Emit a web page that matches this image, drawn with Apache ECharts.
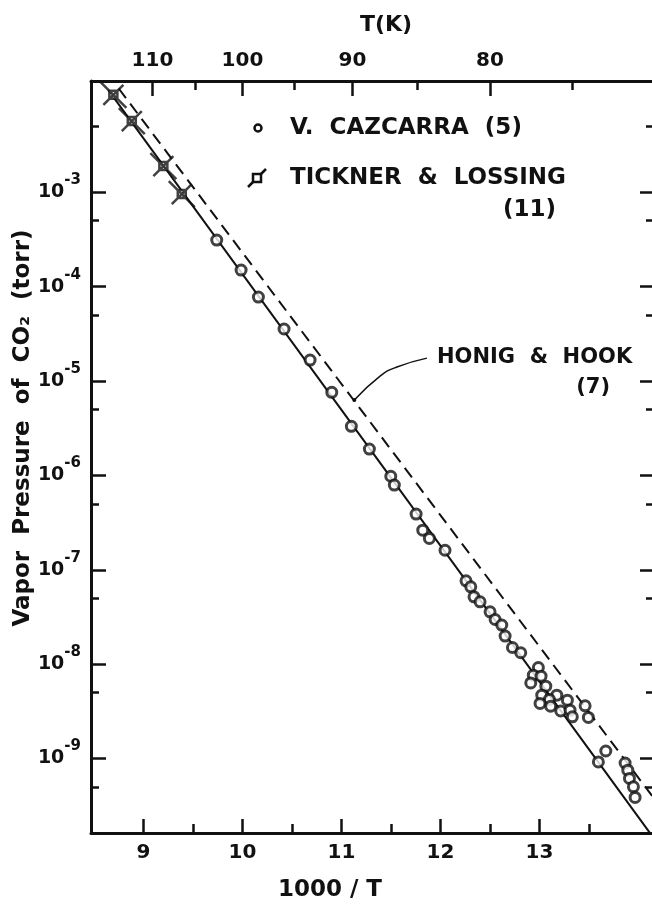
<!DOCTYPE html>
<html>
<head>
<meta charset="utf-8">
<script src="https://cdn.jsdelivr.net/npm/echarts@6/dist/echarts.min.js"></script>
<style>
html, body { margin: 0; padding: 0; background: #fff; }
#chart { width: 652px; height: 908px; }
</style>
</head>
<body>
<div id="chart"></div>
<script>
// x = 1000/T, y = vapor pressure of CO2 in torr
var cazcarraX = [9.740, 9.986, 10.161, 10.420, 10.683, 10.902, 11.10, 11.282, 11.498, 11.534,
    11.754, 11.821, 11.888, 12.046, 12.258, 12.306, 12.339, 12.400, 12.501, 12.552,
    12.619, 12.653, 12.727, 12.811, 12.989, 12.938, 13.016, 12.912, 13.064, 13.023,
    13.175, 13.100, 13.006, 13.282, 13.461, 13.113, 13.215, 13.309, 13.332, 13.494,
    13.670, 13.595, 13.865, 13.892, 13.909, 13.949, 13.966];
var cazcarraP = [3.12e-4, 1.50e-4, 7.76e-5, 3.56e-5, 1.67e-5, 7.59e-6, 3.31e-6, 1.90e-6, 9.8e-7, 7.89e-7,
    3.89e-7, 2.63e-7, 2.15e-7, 1.61e-7, 7.64e-8, 6.59e-8, 5.16e-8, 4.57e-8, 3.58e-8, 2.97e-8,
    2.59e-8, 1.98e-8, 1.50e-8, 1.32e-8, 9.2e-9, 7.64e-9, 7.45e-9, 6.32e-9, 5.83e-9, 4.69e-9,
    4.69e-9, 4.22e-9, 3.83e-9, 4.15e-9, 3.61e-9, 3.58e-9, 3.19e-9, 3.25e-9, 2.76e-9, 2.72e-9,
    1.20e-9, 9.18e-10, 8.95e-10, 7.52e-10, 6.14e-10, 5.0e-10, 3.86e-10];

var ticknerX = [8.696, 8.882, 9.201, 9.387];
var ticknerP = [1.08e-2, 5.7e-3, 1.9e-3, 9.6e-4];

// fitted line (solid) and Honig & Hook (dashed)
var fitX = [8.645, 14.117];
var fitP = [1.21e-2, 1.62e-10];
var honigX = [8.75, 14.14];
var honigP = [1.26e-2, 3.98e-10];

// leader from the dashed line to the "HONIG & HOOK" note
var leaderX = [11.13, 11.39, 11.56, 11.863];
var leaderP = [6.3e-6, 1.13e-5, 1.41e-5, 1.75e-5];

var xTicks = [9, 10, 11, 12, 13];
var xMinorTicks = [9.5, 10.5, 11.5, 12.5, 13.5];
var tempTicks = [110, 100, 90, 80];
var tempMinorTicks = [105, 95, 85, 75];
var pTicks = [1e-3, 1e-4, 1e-5, 1e-6, 1e-7, 1e-8, 1e-9];
var pMinorTicks = [5e-3, 5e-4, 5e-5, 5e-6, 5e-7, 5e-8, 5e-9, 5e-10];

var xMin = 8.47, xMax = 14.167;
var pMin = Math.pow(10, -9.79), pMax = Math.pow(10, -1.82);

window.addEventListener('load', function () {
    var chart = echarts.init(document.getElementById('chart'));
    var ink = '#111';
    var font = 'DejaVu Sans';

    function pairs(xs, ys) {
        return xs.map(function (x, i) { return [x, ys[i]]; });
    }
    function xAxisDef(pos, ticks, len, showLine, label) {
        return {
            type: 'value', position: pos, min: xMin, max: xMax,
            axisLine: { show: showLine, onZero: false, lineStyle: { color: ink, width: 3 } },
            axisTick: { show: true, inside: true, length: len, customValues: ticks,
                lineStyle: { color: ink, width: 2.5 } },
            axisLabel: label || { show: false },
            splitLine: { show: false }
        };
    }
    function yAxisDef(pos, ticks, len, showLine, label) {
        return {
            type: 'log', logBase: 10, position: pos, min: pMin, max: pMax,
            axisLine: { show: showLine, onZero: false, lineStyle: { color: ink, width: 3 } },
            axisTick: { show: true, inside: true, length: len, customValues: ticks,
                lineStyle: { color: ink, width: 2.5 } },
            axisLabel: label || { show: false },
            splitLine: { show: false }
        };
    }
    var tempMajor = tempTicks.map(function (t) { return 1000 / t; });
    var tempMinor = tempMinorTicks.map(function (t) { return 1000 / t; });

    var option = {
        animation: false,
        backgroundColor: '#fff',
        grid: { left: 91, top: 81, width: 564, height: 752, outerBoundsMode: 'none' },
        xAxis: [
            xAxisDef('bottom', xTicks, 14, true, {
                customValues: xTicks, margin: 10, color: ink,
                fontFamily: font, fontWeight: 'bold', fontSize: 20
            }),
            xAxisDef('bottom', xMinorTicks, 9, false),
            xAxisDef('top', tempMajor, 15, true, {
                customValues: tempMajor, margin: 10, color: ink,
                fontFamily: font, fontWeight: 'bold', fontSize: 20,
                formatter: function (v) { return Math.round(1000 / v); }
            }),
            xAxisDef('top', tempMinor, 9, false)
        ],
        yAxis: [
            yAxisDef('left', pTicks, 15, true, {
                customValues: pTicks, margin: 10, color: ink,
                formatter: function (v) {
                    return '{b|10}{s|' + Math.round(Math.log10(v)) + '}';
                },
                rich: {
                    b: { fontFamily: font, fontWeight: 'bold', fontSize: 19, color: ink, padding: [10, 0, 10, 0] },
                    s: { fontFamily: font, fontWeight: 'bold', fontSize: 15, color: ink, verticalAlign: 'top' }
                }
            }),
            yAxisDef('left', pMinorTicks, 8, false),
            yAxisDef('right', pTicks, 15, true),
            yAxisDef('right', pMinorTicks, 9, false)
        ],
        graphic: [
            { type: 'text', x: 386, y: 25, style: { text: 'T(K)', fill: ink, align: 'center', verticalAlign: 'middle',
                font: 'bold 22px "DejaVu Sans"' } },
            { type: 'text', x: 330, y: 890, style: { text: '1000 / T', fill: ink, align: 'center', verticalAlign: 'middle',
                font: 'bold 23px "DejaVu Sans"' } },
            { type: 'text', x: 23, y: 428, rotation: Math.PI / 2, style: { text: 'Vapor  Pressure  of  CO\u2082  (torr)',
                fill: ink, align: 'center', verticalAlign: 'middle', font: 'bold 23px "DejaVu Sans"' } },
            // legend
            { type: 'circle', shape: { cx: 258, cy: 128, r: 3.5 }, style: { fill: '#fff', stroke: ink, lineWidth: 2.5 } },
            { type: 'text', x: 290, y: 128, style: { text: 'V.  CAZCARRA  (5)', fill: ink, align: 'left', verticalAlign: 'middle',
                font: 'bold 23px "DejaVu Sans"' } },
            { type: 'line', shape: { x1: 248, y1: 187, x2: 266, y2: 169 }, style: { stroke: ink, lineWidth: 2.5 } },
            { type: 'rect', shape: { x: 253, y: 174, width: 8, height: 8 }, style: { fill: '#fff', stroke: ink, lineWidth: 2.5 } },
            { type: 'text', x: 290, y: 178, style: { text: 'TICKNER  &  LOSSING', fill: ink, align: 'left', verticalAlign: 'middle',
                font: 'bold 23px "DejaVu Sans"' } },
            { type: 'text', x: 556, y: 210, style: { text: '(11)', fill: ink, align: 'right', verticalAlign: 'middle',
                font: 'bold 23px "DejaVu Sans"' } },
            // note
            { type: 'text', x: 437, y: 358, style: { text: 'HONIG  &  HOOK', fill: ink, align: 'left', verticalAlign: 'middle',
                font: 'bold 21px "DejaVu Sans"' } },
            { type: 'text', x: 610, y: 388, style: { text: '(7)', fill: ink, align: 'right', verticalAlign: 'middle',
                font: 'bold 21px "DejaVu Sans"' } }
        ],
        series: [
            {
                name: 'fit', type: 'line', data: pairs(fitX, fitP), symbol: 'none', silent: true,
                lineStyle: { color: ink, width: 2 }, z: 2
            },
            {
                name: 'Honig & Hook', type: 'line', data: pairs(honigX, honigP), symbol: 'none', silent: true,
                lineStyle: { color: ink, width: 2, type: [12, 7] }, z: 2
            },
            {
                name: 'leader', type: 'line', smooth: true, silent: true, symbol: 'none', showSymbol: true,
                data: pairs(leaderX, leaderP).map(function (d, i) {
                    return i === 0 ? { value: d, symbol: 'circle', symbolSize: 4 } : d;
                }),
                itemStyle: { color: ink },
                lineStyle: { color: ink, width: 1.5 }, z: 2
            },
            {
                name: 'V. CAZCARRA (5)', type: 'scatter', data: pairs(cazcarraX, cazcarraP),
                symbol: 'circle', symbolSize: 10,
                itemStyle: { color: '#fff', borderColor: ink, borderWidth: 3 }, z: 3
            },
            {
                name: 'TICKNER & LOSSING (11)', type: 'scatter', data: pairs(ticknerX, ticknerP),
                symbol: 'path://M-13,-13L13,13M-10,10L10,-10M-4,-4L4,-4L4,4L-4,4Z', symbolSize: 26,
                itemStyle: { color: '#fff', borderColor: ink, borderWidth: 2.5 }, z: 4
            }
        ]
    };
    chart.setOption(option);
}, false);
</script>
</body>
</html>
